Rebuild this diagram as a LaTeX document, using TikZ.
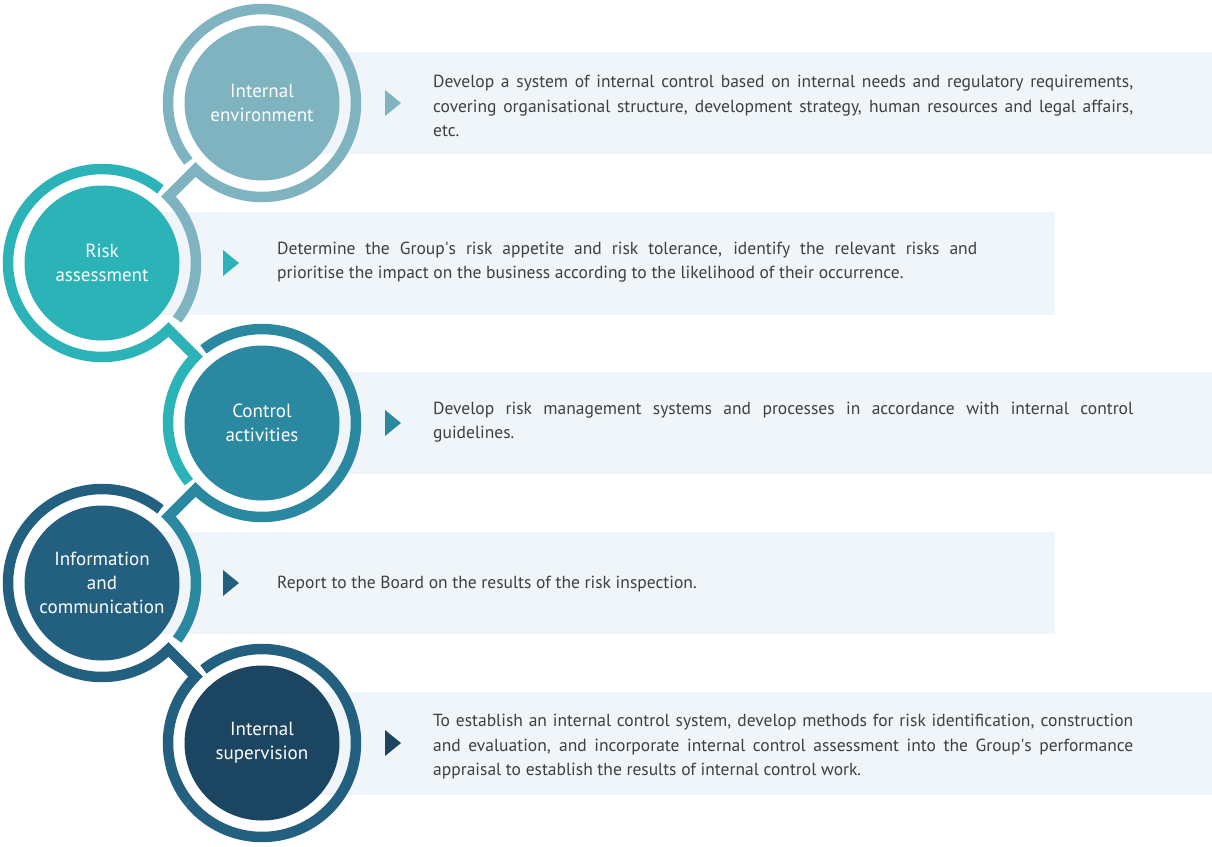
\documentclass[tikz,border=0pt]{standalone}
\usepackage{fontspec}
\setmainfont{PT Sans}
\usetikzlibrary{calc}

\definecolor{envcol}{HTML}{7FB3C0}
\definecolor{riskcol}{HTML}{2BB3B8}
\definecolor{ctrlcol}{HTML}{2A88A0}
\definecolor{infocol}{HTML}{236080}
\definecolor{supcol}{HTML}{1B4560}
\definecolor{panelcol}{HTML}{EFF5F8}
\definecolor{textcol}{HTML}{3F3F3F}

\begin{document}
\begin{tikzpicture}[
  x=1pt, y=1pt,
  ringline/.style={line width=10.5pt, line join=miter},
  disc/.style={circle, minimum size=155pt, inner sep=0pt, text=white,
    align=center, font=\fontsize{19}{24}\selectfont},
  panel/.style={fill=panelcol},
  blurb/.style={anchor=west, text width=700pt, align=justify, inner sep=0pt,
    text=textcol, font=\fontsize{17.5}{24.5}\selectfont},
]
  \useasboundingbox (0,0) rectangle (1212,-846);

  \coordinate (c1) at (262,-103);
  \coordinate (c2) at (102,-263);
  \coordinate (c3) at (262,-423);
  \coordinate (c4) at (102,-583);
  \coordinate (c5) at (262,-743);

  % grey panels behind the descriptions
  \fill[panel] (262,-52)  rectangle (1212,-154);
  \fill[panel] (102,-212) rectangle (1055,-315);
  \fill[panel] (262,-372) rectangle (1212,-474);
  \fill[panel] (102,-532) rectangle (1055,-634);
  \fill[panel] (262,-692) rectangle (1212,-795);

  % rings, each running on into the next one
  \draw[ringline, envcol] ($(c1)+(218.5:94)$) arc[start angle=218.5, end angle=-135, radius=94]
    -- ($(c2)+(45:94)$) arc[start angle=45, end angle=-37, radius=94];
  \draw[ringline, riskcol] ($(c2)+(51.5:94)$) arc[start angle=51.5, end angle=315, radius=94]
    -- ($(c3)+(135:94)$) arc[start angle=135, end angle=219, radius=94];
  \draw[ringline, ctrlcol] ($(c3)+(128.5:94)$) arc[start angle=128.5, end angle=-135, radius=94]
    -- ($(c4)+(45:94)$) arc[start angle=45, end angle=-37, radius=94];
  \draw[ringline, infocol] ($(c4)+(51.5:94)$) arc[start angle=51.5, end angle=315, radius=94]
    -- ($(c5)+(135:94)$) arc[start angle=135, end angle=219, radius=94];
  \draw[ringline, infocol] ($(c5)+(128.5:94)$) arc[start angle=128.5, end angle=-141, radius=94];

  % discs
  \node[disc, fill=envcol]  (n1) at (c1) {Internal\\environment};
  \node[disc, fill=riskcol] (n2) at (c2) {Risk\\assessment};
  \node[disc, fill=ctrlcol] (n3) at (c3) {Control\\activities};
  \node[disc, fill=infocol] (n4) at (c4) {Information\\and\\communication};
  \node[disc, fill=supcol]  (n5) at (c5) {Internal\\supervision};

  % pointers
  \fill[envcol]  (385,-90)  -- ++(16,-13) -- ++(-16,-13) -- cycle;
  \fill[riskcol] (223,-250) -- ++(16,-13) -- ++(-16,-13) -- cycle;
  \fill[ctrlcol] (385,-410) -- ++(16,-13) -- ++(-16,-13) -- cycle;
  \fill[infocol] (223,-570) -- ++(16,-13) -- ++(-16,-13) -- cycle;
  \fill[supcol]  (385,-730) -- ++(16,-13) -- ++(-16,-13) -- cycle;

  % descriptions
  \node[blurb] (t1) at (433,-106) {Develop a system of internal control based on internal needs and regulatory requirements,\linebreak
    covering organisational structure, development strategy, human resources and legal affairs,\linebreak etc.};
  \node[blurb] (t2) at (277,-262) {Determine the Group\textquotesingle s risk appetite and risk tolerance, identify the relevant risks and\linebreak
    prioritise the impact on the business according to the likelihood of their occurrence.};
  \node[blurb] (t3) at (433,-422) {Develop risk management systems and processes in accordance with internal control\linebreak guidelines.};
  \node[blurb] (t4) at (277,-584) {Report to the Board on the results of the risk inspection.};
  \node[blurb] (t5) at (433,-747) {To establish an internal control system, develop methods for risk identification, construction\linebreak
    and evaluation, and incorporate internal control assessment into the Group\textquotesingle s performance\linebreak
    appraisal to establish the results of internal control work.};
\end{tikzpicture}
\end{document}
